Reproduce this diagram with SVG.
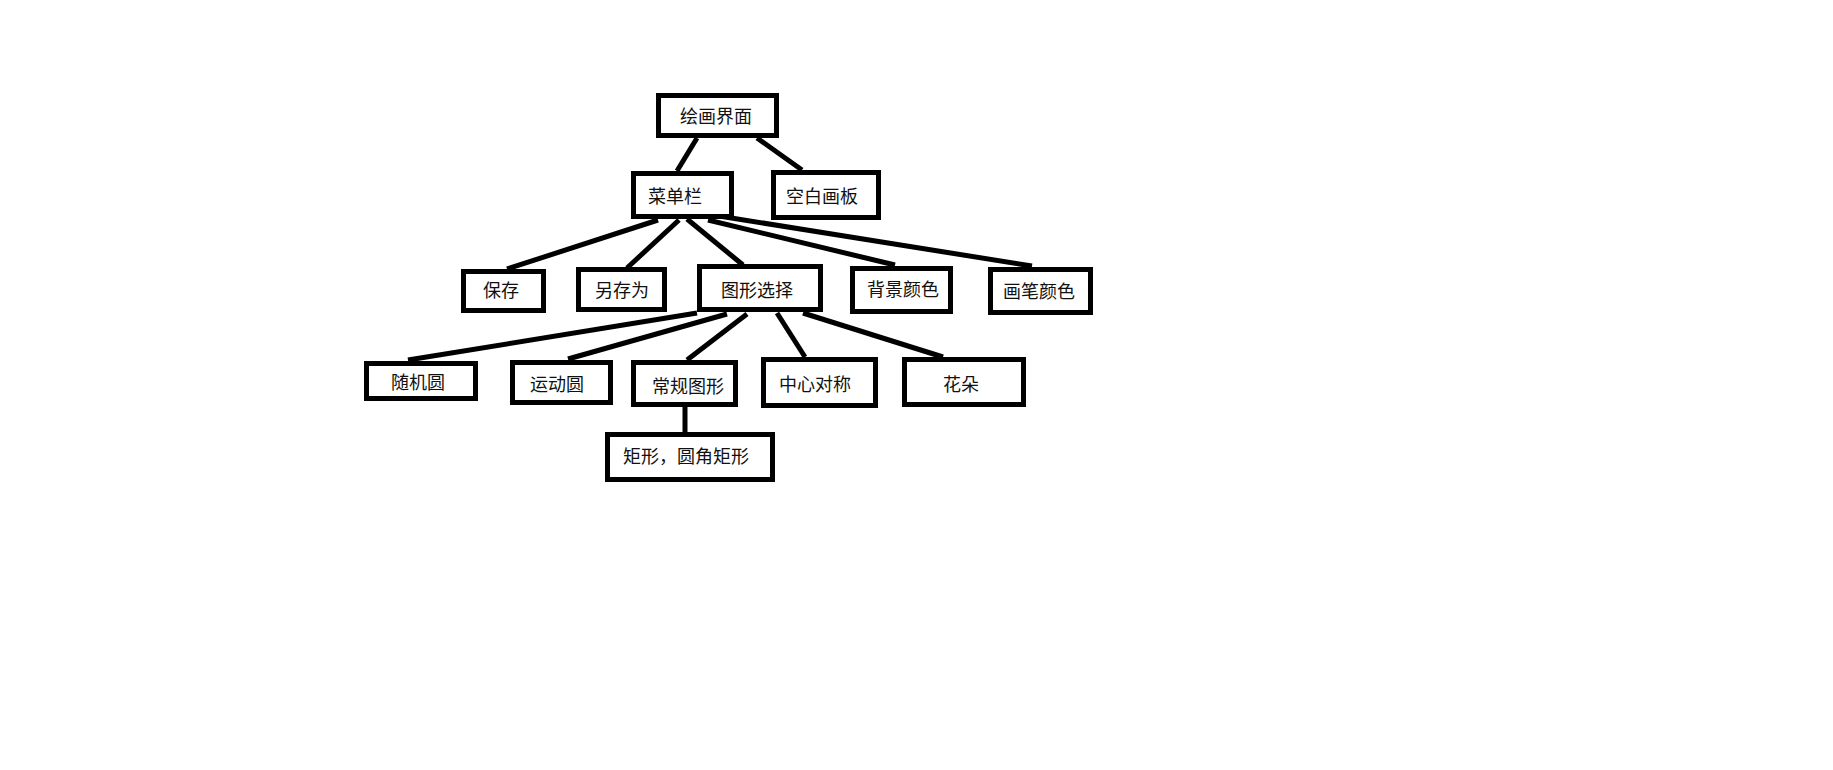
<svg xmlns="http://www.w3.org/2000/svg" width="1833" height="770" viewBox="0 0 1833 770">
<style>
.box{fill:#fff;stroke:#000;stroke-width:5}
.lbl{font-family:"Noto Sans CJK SC","Microsoft YaHei",sans-serif;font-size:18px;fill:#111;text-anchor:middle;dominant-baseline:central}
.edge{stroke:#000;stroke-width:5;fill:none}
</style>
<rect width="1833" height="770" fill="#fff"/>
<g id="connectors">
<line class="edge" x1="697" y1="138" x2="677" y2="171"/>
<line class="edge" x1="757" y1="138" x2="802" y2="170"/>
<line class="edge" x1="658" y1="220" x2="507" y2="269"/>
<line class="edge" x1="679" y1="220" x2="627" y2="268"/>
<line class="edge" x1="687" y1="219" x2="743" y2="265"/>
<line class="edge" x1="708" y1="220" x2="895" y2="265"/>
<line class="edge" x1="719" y1="216" x2="1032" y2="266"/>
<line class="edge" x1="697" y1="313" x2="408" y2="360"/>
<line class="edge" x1="727" y1="314" x2="568" y2="359"/>
<line class="edge" x1="747" y1="314" x2="687" y2="360"/>
<line class="edge" x1="777" y1="313" x2="805" y2="357"/>
<line class="edge" x1="803" y1="313" x2="943" y2="357"/>
<line class="edge" x1="685" y1="407" x2="685" y2="432"/>
</g>
<g id="n_huihua"><rect class="box" x="658.5" y="95.5" width="118" height="40"/><text class="lbl" x="716" y="115">绘画界面</text></g>
<g id="n_caidan"><rect class="box" x="633.5" y="173.5" width="98" height="43"/><text class="lbl" x="675" y="195">菜单栏</text></g>
<g id="n_kongbai"><rect class="box" x="773.5" y="172.5" width="105" height="45"/><text class="lbl" x="822" y="195">空白画板</text></g>
<g id="n_baocun"><rect class="box" x="463.5" y="271.5" width="80" height="39"/><text class="lbl" x="501" y="289">保存</text></g>
<g id="n_lingcun"><rect class="box" x="578.5" y="269.5" width="86" height="40"/><text class="lbl" x="622" y="289">另存为</text></g>
<g id="n_tuxing"><rect class="box" x="699.5" y="266.5" width="121" height="43"/><text class="lbl" x="757" y="289">图形选择</text></g>
<g id="n_beijing"><rect class="box" x="852.5" y="268.5" width="98" height="43"/><text class="lbl" x="903" y="288">背景颜色</text></g>
<g id="n_huabi"><rect class="box" x="990.5" y="269.5" width="100" height="43"/><text class="lbl" x="1039" y="290">画笔颜色</text></g>
<g id="n_suiji"><rect class="box" x="366.5" y="363.5" width="109" height="35"/><text class="lbl" x="418" y="381">随机圆</text></g>
<g id="n_yundong"><rect class="box" x="512.5" y="362.5" width="98" height="40"/><text class="lbl" x="557" y="383">运动圆</text></g>
<g id="n_changgui"><rect class="box" x="633.5" y="362.5" width="102" height="42"/><text class="lbl" x="688" y="385">常规图形</text></g>
<g id="n_zhongxin"><rect class="box" x="763.5" y="359.5" width="112" height="46"/><text class="lbl" x="815" y="383">中心对称</text></g>
<g id="n_huaduo"><rect class="box" x="904.5" y="359.5" width="119" height="45"/><text class="lbl" x="961" y="383">花朵</text></g>
<g id="n_juxing"><rect class="box" x="607.5" y="434.5" width="165" height="45"/><text class="lbl" x="686" y="455">矩形，圆角矩形</text></g>
</svg>
